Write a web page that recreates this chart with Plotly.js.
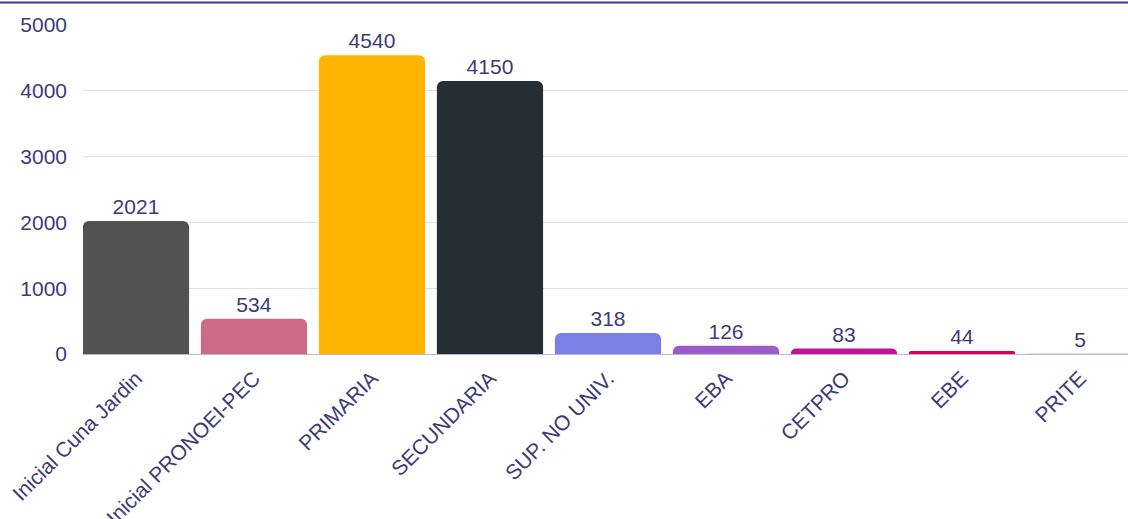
<!DOCTYPE html>
<html>
<head>
<meta charset="utf-8">
<script src="https://cdn.plot.ly/plotly-3.0.1.min.js"></script>
<style>html,body{margin:0;padding:0;background:#fff;}#chart{width:1128px;height:519px;}</style>
</head>
<body>
<div id="chart"></div>
<script>
const categories = ["Inicial Cuna Jardin", "Inicial PRONOEI-PEC", "PRIMARIA", "SECUNDARIA", "SUP. NO UNIV.", "EBA", "CETPRO", "EBE", "PRITE"];
const values = [2021, 534, 4540, 4150, 318, 126, 83, 44, 5];
const barColors = ["#525252", "#cc6b86", "#ffb400", "#252e35", "#7b80e6", "#a05ac8", "#c0149a", "#d6005f", "#cc7a80"];
const yTicks = [0, 1000, 2000, 3000, 4000, 5000];

const txt = "#3d3b78";
const fam = "Liberation Sans, Arial, sans-serif";
const trace = {
  type: "bar",
  x: categories,
  y: values,
  marker: {color: barColors},
  text: values.map(String),
  textposition: "outside",
  cliponaxis: false,
  textfont: {family: fam, size: 21, color: txt},
  hoverinfo: "x+y"
};
const layout = {
  width: 1128, height: 519,
  margin: {l: 83, r: 0, t: 25, b: 165},
  paper_bgcolor: "#fff", plot_bgcolor: "#fff",
  bargap: 0.1,
  barcornerradius: 6,
  showlegend: false,
  font: {family: fam, size: 21, color: txt},
  xaxis: {
    type: "category",
    range: [-0.449, 8.407],
    tickangle: -45,
    showgrid: false,
    ticks: "",
    tickfont: {size: 21, color: txt},
    ticklabelstandoff: 7,
    showline: false,
    zeroline: false
  },
  yaxis: {
    range: [0, 5000],
    tickvals: yTicks,
    ticktext: yTicks.map(String),
    showgrid: true,
    gridcolor: "#e0dfe8",
    gridwidth: 1,
    zeroline: true,
    zerolinecolor: "#b8b6d4",
    zerolinewidth: 1,
    showline: false,
    ticks: "",
    ticklabelstandoff: 15,
    tickfont: {size: 21, color: txt}
  },
  shapes: [{
    type: "line", xref: "paper", yref: "paper",
    x0: -0.1, x1: 1.01, y0: 1.0685, y1: 1.0685,
    line: {color: "#3b3996", width: 2}
  }]
};
Plotly.newPlot("chart", [trace], layout, {displayModeBar: false, staticPlot: true});
</script>
</body>
</html>
